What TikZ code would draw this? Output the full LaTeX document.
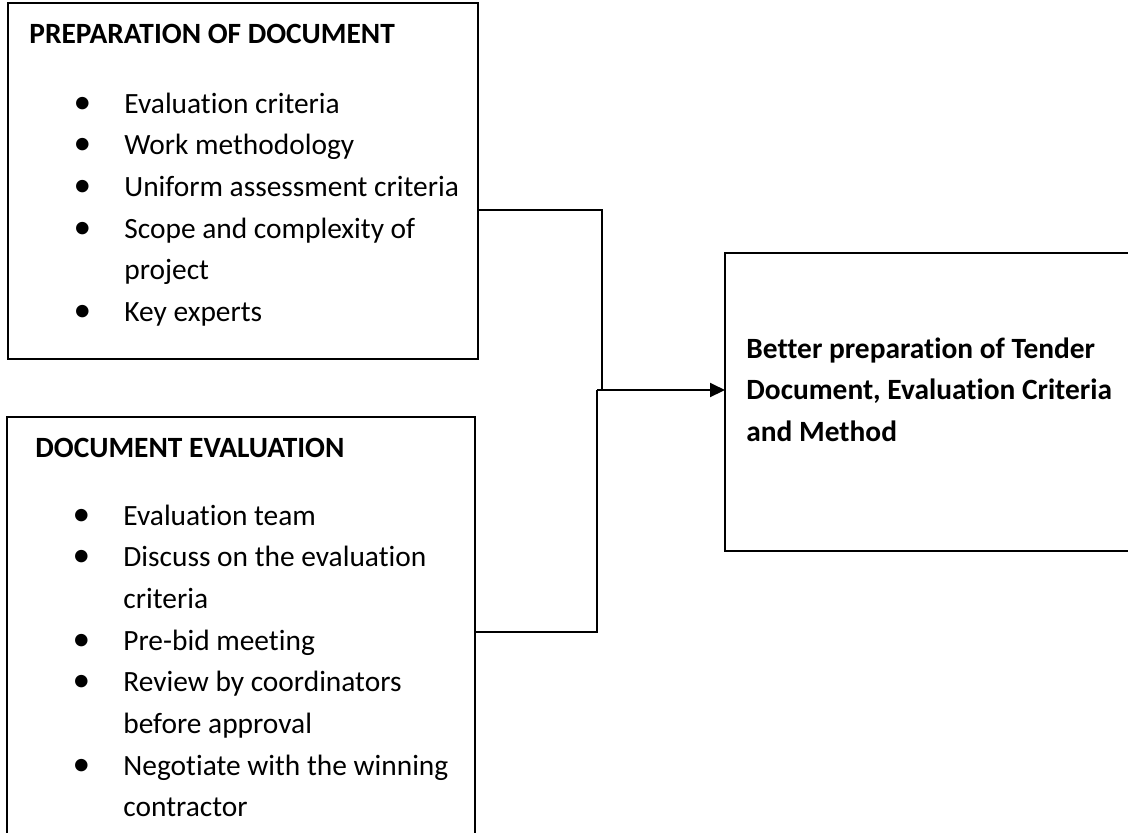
\documentclass[tikz,border=0pt]{standalone}
\usepackage{fontspec}
\setmainfont[Ligatures=NoCommon]{Carlito}
\usetikzlibrary{arrows.meta,positioning}
\tikzset{
    box/.style={rectangle, draw=black, line width=1pt,
        outer sep=0pt, inner sep=0pt, anchor=north west},
    txt/.style={anchor=base west, inner sep=0pt},
    link/.style={line width=1pt},
    arrow/.style={-{Triangle[length=7.5pt,width=7pt]}, line width=1pt}
}
\newcommand{\bitem}[1]{\hspace*{37pt}\makebox[0pt]{\scalebox{1.2}{\textbullet}}\hspace*{21pt}#1}
\newcommand{\bcont}[1]{\hspace*{58pt}#1}
\newcommand{\boxtext}[1]{\parbox[t]{300pt}{\fontsize{14.7}{20.85}\selectfont #1}}

\begin{document}
\begin{tikzpicture}[x=0.5pt, y=-0.5pt]
    \clip (0,0) rectangle (1128,832);
    % boxes
    \node[box, minimum width=235pt, minimum height=178pt] (prep) at (8,3) {};
    \node[box, minimum width=234pt, minimum height=225pt] (eval) at (7,417) {};
    \node[box, minimum width=215pt, minimum height=149pt] (better) at (725,253) {};
    % box contents
    \node[txt] (preptext) at ([yshift=-20pt]prep.north west) {\boxtext{%
        \hspace*{10.5pt}\textbf{PREPARATION OF DOCUMENT}\\[14.15pt]
        \bitem{Evaluation criteria}\\
        \bitem{Work methodology}\\
        \bitem{Uniform assessment criteria}\\
        \bitem{Scope and complexity of}\\
        \bcont{project}\\
        \bitem{Key experts}}};
    \node[txt] (evaltext) at ([yshift=-20pt]eval.north west) {\boxtext{%
        \hspace*{14pt}\textbf{DOCUMENT EVALUATION}\\[13.15pt]
        \bitem{Evaluation team}\\
        \bitem{Discuss on the evaluation}\\
        \bcont{criteria}\\
        \bitem{Pre-bid meeting}\\
        \bitem{Review by coordinators}\\
        \bcont{before approval}\\
        \bitem{Negotiate with the winning}\\
        \bcont{contractor}}};
    \node[txt] (bettertext) at ([xshift=10.5pt, yshift=-52.5pt]better.north west) {\boxtext{%
        \textbf{Better preparation of Tender}\\
        \textbf{Document, Evaluation Criteria}\\
        \textbf{and Method}}};
    % connectors
    \coordinate (hubA) at (602,390);
    \coordinate (hubB) at (597,390);
    \draw[link] ([yshift=-103.5pt]prep.north east) -| (hubA);
    \draw[link] ([yshift=-107.5pt]eval.north east) -| (hubB);
    \draw[arrow] (hubB) -- (better.west |- hubB);
\end{tikzpicture}
\end{document}
